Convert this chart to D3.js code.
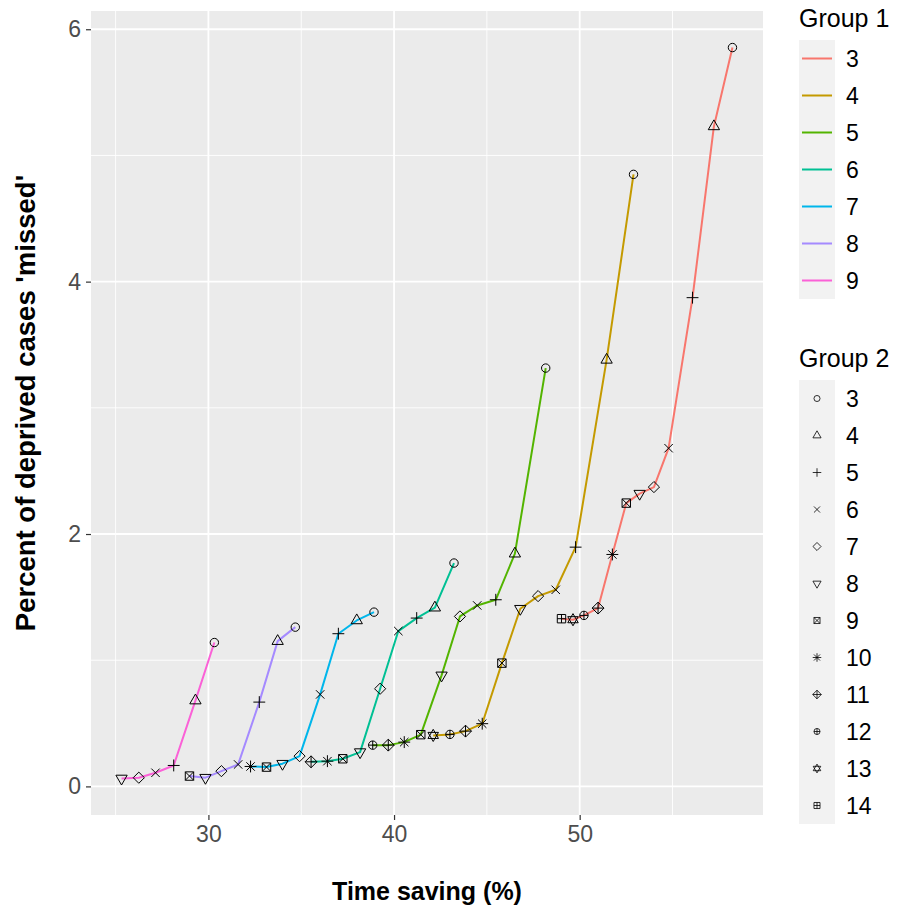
<!DOCTYPE html>
<html>
<head>
<meta charset="utf-8">
<script src="https://cdn.jsdelivr.net/npm/d3@7"></script>
<style>
  body { margin: 0; background: #fff; }
  text { font-family: "Liberation Sans", Arial, sans-serif; }
</style>
</head>
<body>
<div id="chart"></div>
<script>
// Group 1 = line colour, Group 2 = point shape
var group1 = [3, 4, 5, 6, 7, 8, 9];
var group2 = [3, 4, 5, 6, 7, 8, 9, 10, 11, 12, 13, 14];
var hues = ["#F8766D", "#C49A00", "#53B400", "#00C094", "#00B6EB", "#A58AFF", "#FB61D7"];

// values ordered by Group 2 = 3, 4, 5, ...
var saving3 = [58.23, 57.23, 56.08, 54.79, 54.00, 53.23, 52.51, 51.76, 50.99, 50.23, 49.64, 49.02];
var missed3 = [5.855, 5.23, 3.873, 2.68, 2.372, 2.32, 2.245, 1.838, 1.413, 1.355, 1.321, 1.329];
var saving4 = [52.90, 51.45, 49.78, 48.71, 47.76, 46.80, 45.81, 44.75, 43.85, 43.01, 42.11];
var missed4 = [4.85, 3.38, 1.896, 1.558, 1.508, 1.408, 0.977, 0.497, 0.438, 0.412, 0.404];
var saving5 = [48.17, 46.51, 45.48, 44.48, 43.55, 42.56, 41.44, 40.55, 39.69, 38.85];
var missed5 = [3.315, 1.844, 1.479, 1.434, 1.347, 0.88, 0.41, 0.351, 0.327, 0.327];
var saving6 = [43.23, 42.20, 41.22, 40.23, 39.25, 38.17, 37.24, 36.41, 35.53];
var missed6 = [1.77, 1.416, 1.334, 1.231, 0.774, 0.272, 0.219, 0.20, 0.195];
var saving7 = [38.92, 37.99, 37.00, 36.02, 34.91, 33.99, 33.13, 32.27];
var missed7 = [1.381, 1.315, 1.21, 0.729, 0.24, 0.18, 0.153, 0.158];
var saving8 = [34.68, 33.73, 32.74, 31.60, 30.70, 29.84, 28.98];
var missed8 = [1.262, 1.151, 0.668, 0.174, 0.121, 0.069, 0.082];
var saving9 = [30.32, 29.30, 28.13, 27.15, 26.25, 25.32];
var missed9 = [1.14, 0.68, 0.166, 0.108, 0.069, 0.063];

var xTicks = [30, 40, 50];
var yTicks = [0, 2, 4, 6];

var savings = [saving3, saving4, saving5, saving6, saving7, saving8, saving9];
var misses = [missed3, missed4, missed5, missed6, missed7, missed8, missed9];

var series = group1.map(function (g, i) {
	return {
		g: g,
		pts: savings[i].map(function (x, j) { return { x: x, y: misses[i][j], shape: group2[j] }; })
	};
});
var allPts = d3.merge(series.map(function (s) { return s.pts; }));

var W = 897, H = 909;
var panel = { left: 91, right: 763, top: 11, bottom: 815 };

// ggplot style 5% expansion
function expand(ext) {
	var d = (ext[1] - ext[0]) * 0.05;
	return [ext[0] - d, ext[1] + d];
}
var x = d3.scaleLinear()
	.domain(expand(d3.extent(allPts, function (d) { return d.x; })))
	.range([panel.left, panel.right]);
var y = d3.scaleLinear()
	.domain(expand(d3.extent(allPts, function (d) { return d.y; })))
	.range([panel.bottom, panel.top]);

var svg = d3.select("#chart").append("svg")
	.attr("width", W)
	.attr("height", H);

//Panel background
svg.append("rect")
	.attr("x", panel.left).attr("y", panel.top)
	.attr("width", panel.right - panel.left)
	.attr("height", panel.bottom - panel.top)
	.attr("fill", "#EBEBEB");

//Grid lines, minor then major
var grid = svg.append("g");
var xMinor = xTicks.map(function (t) { return t - 5; }).concat([xTicks[xTicks.length - 1] + 5])
	.filter(function (t) { return t > x.domain()[0] && t < x.domain()[1]; });
var yMinor = yTicks.slice(1).map(function (t) { return t - 1; });

grid.selectAll(".xminor").data(xMinor).enter().append("line")
	.attr("x1", x).attr("x2", x)
	.attr("y1", panel.top).attr("y2", panel.bottom)
	.attr("stroke", "#fff").attr("stroke-width", 0.9);
grid.selectAll(".yminor").data(yMinor).enter().append("line")
	.attr("y1", y).attr("y2", y)
	.attr("x1", panel.left).attr("x2", panel.right)
	.attr("stroke", "#fff").attr("stroke-width", 0.9);
grid.selectAll(".xmajor").data(xTicks).enter().append("line")
	.attr("x1", x).attr("x2", x)
	.attr("y1", panel.top).attr("y2", panel.bottom)
	.attr("stroke", "#fff").attr("stroke-width", 1.8);
grid.selectAll(".ymajor").data(yTicks).enter().append("line")
	.attr("y1", y).attr("y2", y)
	.attr("x1", panel.left).attr("x2", panel.right)
	.attr("stroke", "#fff").attr("stroke-width", 1.8);

//Axes
var xAxis = svg.append("g")
	.attr("transform", "translate(0," + panel.bottom + ")")
	.call(d3.axisBottom(x).tickValues(xTicks).tickFormat(d3.format("d")).tickSize(5).tickPadding(6));
var yAxis = svg.append("g")
	.attr("transform", "translate(" + panel.left + ",0)")
	.call(d3.axisLeft(y).tickValues(yTicks).tickFormat(d3.format("d")).tickSize(5).tickPadding(5));
[xAxis, yAxis].forEach(function (a) {
	a.select(".domain").remove();
	a.selectAll(".tick line").attr("stroke", "#333333").attr("stroke-width", 1.2);
	a.selectAll(".tick text")
		.attr("fill", "#4D4D4D")
		.style("font-size", "23px")
		.style("font-family", "Liberation Sans, Arial, sans-serif");
});

//Axis titles
svg.append("text")
	.attr("x", (panel.left + panel.right) / 2)
	.attr("y", 900)
	.attr("text-anchor", "middle")
	.style("font-size", "25px")
	.style("font-weight", "bold")
	.text("Time saving (%)");
svg.append("text")
	.attr("transform", "translate(35,403) rotate(-90)")
	.attr("text-anchor", "middle")
	.style("font-size", "27.5px")
	.style("font-weight", "bold")
	.text("Percent of deprived cases 'missed'");

//R style point symbols
function shapePath(level, k) {
	var p = d3.path();
	var R = 4.2 * k;
	function circ(r) { p.moveTo(r, 0); p.arc(0, 0, r, 0, 2 * Math.PI); }
	function tri(r, dir) {
		p.moveTo(0, dir * r);
		p.lineTo(r * 0.866, -dir * r * 0.5);
		p.lineTo(-r * 0.866, -dir * r * 0.5);
		p.closePath();
	}
	function plus(r) { p.moveTo(-r, 0); p.lineTo(r, 0); p.moveTo(0, -r); p.lineTo(0, r); }
	function cross(r) { p.moveTo(-r, -r); p.lineTo(r, r); p.moveTo(-r, r); p.lineTo(r, -r); }
	function diamond(r) { p.moveTo(0, -r); p.lineTo(r, 0); p.lineTo(0, r); p.lineTo(-r, 0); p.closePath(); }
	function square(r) { p.rect(-r, -r, 2 * r, 2 * r); }
	switch (level) {
		case 3: circ(R); break;
		case 4: tri(1.555 * R, -1); break;
		case 5: plus(1.414 * R); break;
		case 6: cross(R); break;
		case 7: diamond(1.33 * R); break;
		case 8: tri(1.555 * R, 1); break;
		case 9: square(R); cross(R); break;
		case 10: cross(R); plus(1.414 * R); break;
		case 11: diamond(1.414 * R); plus(1.414 * R); break;
		case 12: circ(R); plus(R); break;
		case 13:
			var a = 1.45 * R, b = a / 2, w = 1.25 * R;
			p.moveTo(0, -a); p.lineTo(w, b); p.lineTo(-w, b); p.closePath();
			p.moveTo(0, a); p.lineTo(w, -b); p.lineTo(-w, -b); p.closePath();
			break;
		case 14: square(R); plus(R); break;
	}
	return p.toString();
}

//Lines
var line = d3.line()
	.x(function (d) { return x(d.x); })
	.y(function (d) { return y(d.y); });

svg.append("g").selectAll("path")
	.data(series)
	.enter().append("path")
	.attr("d", function (d) { return line(d.pts.slice().sort(function (a, b) { return a.x - b.x; })); })
	.attr("fill", "none")
	.attr("stroke", function (d, i) { return hues[i]; })
	.attr("stroke-width", 2)
	.attr("stroke-linejoin", "round");

//Points
svg.append("g").selectAll("path")
	.data(allPts)
	.enter().append("path")
	.attr("transform", function (d) { return "translate(" + x(d.x) + "," + y(d.y) + ")"; })
	.attr("d", function (d) { return shapePath(d.shape, 1); })
	.attr("fill", "none")
	.attr("stroke", "#000")
	.attr("stroke-width", 1);

//Legends
var keyX = 799, keyW = 36, step = 37;

function legend(title, top, levels, drawKey) {
	var lg = svg.append("g");
	lg.append("text")
		.attr("x", keyX)
		.attr("y", top - 13)
		.style("font-size", "25px")
		.text(title);
	lg.append("rect")
		.attr("x", keyX).attr("y", top)
		.attr("width", keyW).attr("height", step * levels.length)
		.attr("fill", "#F2F2F2");
	var item = lg.selectAll(".item")
		.data(levels)
		.enter().append("g")
		.attr("transform", function (d, i) { return "translate(0," + (top + step / 2 + i * step) + ")"; });
	drawKey(item);
	item.append("text")
		.attr("x", 846)
		.attr("dy", "0.36em")
		.style("font-size", "23px")
		.text(function (d) { return d; });
}

legend("Group 1", 40, group1, function (item) {
	item.append("line")
		.attr("x1", keyX + 3).attr("x2", keyX + keyW - 3)
		.attr("stroke", function (d, i) { return hues[i]; })
		.attr("stroke-width", 2);
});
legend("Group 2", 380, group2, function (item) {
	item.append("path")
		.attr("transform", "translate(" + (keyX + keyW / 2) + ",0)")
		.attr("d", function (d) { return shapePath(d, 0.72); })
		.attr("fill", "none")
		.attr("stroke", "#000")
		.attr("stroke-width", 0.8);
});
</script>
</body>
</html>
